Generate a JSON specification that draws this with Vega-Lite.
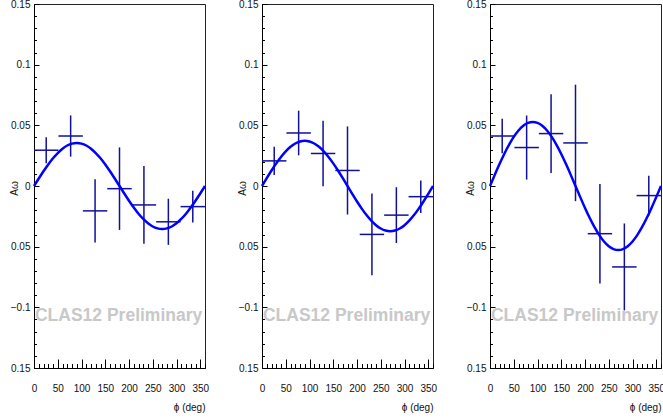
{
  "$schema": "https://vega.github.io/schema/vega-lite/v6.json",
  "padding": {"left": 8, "top": -2, "right": 0, "bottom": 0},
  "background": "white",
  "config": {
    "font": "Liberation Sans",
    "view": {"stroke": "#222", "strokeWidth": 1},
    "axis": {"grid": false, "labelFont": "Liberation Sans", "labelFontSize": 10, "labelColor": "#111", "tickColor": "#000", "tickWidth": 1, "domainColor": "#000", "labelFlush": false, "labelOverlap": false}
  },
  "datasets": {
    "pts": [
      {"panel": 1, "phi": 25.71, "phiLo": 0, "phiHi": 51.43, "A": 0.0295, "Alo": 0.0188, "Ahi": 0.0402},
      {"panel": 1, "phi": 77.14, "phiLo": 51.43, "phiHi": 102.86, "A": 0.0412, "Alo": 0.0242, "Ahi": 0.0582},
      {"panel": 1, "phi": 128.57, "phiLo": 102.86, "phiHi": 154.29, "A": -0.0205, "Alo": -0.0465, "Ahi": 0.0055},
      {"panel": 1, "phi": 180, "phiLo": 154.29, "phiHi": 205.71, "A": -0.0022, "Alo": -0.0362, "Ahi": 0.0318},
      {"panel": 1, "phi": 231.43, "phiLo": 205.71, "phiHi": 257.14, "A": -0.0156, "Alo": -0.0476, "Ahi": 0.0164},
      {"panel": 1, "phi": 282.86, "phiLo": 257.14, "phiHi": 308.57, "A": -0.0295, "Alo": -0.0485, "Ahi": -0.0105},
      {"panel": 1, "phi": 334.29, "phiLo": 308.57, "phiHi": 360, "A": -0.017, "Alo": -0.030, "Ahi": -0.004},
      {"panel": 2, "phi": 25.71, "phiLo": 0, "phiHi": 51.43, "A": 0.0207, "Alo": 0.0091, "Ahi": 0.0323},
      {"panel": 2, "phi": 77.14, "phiLo": 51.43, "phiHi": 102.86, "A": 0.0437, "Alo": 0.0253, "Ahi": 0.0621},
      {"panel": 2, "phi": 128.57, "phiLo": 102.86, "phiHi": 154.29, "A": 0.0268, "Alo": -0.0002, "Ahi": 0.0538},
      {"panel": 2, "phi": 180, "phiLo": 154.29, "phiHi": 205.71, "A": 0.0128, "Alo": -0.0235, "Ahi": 0.0491},
      {"panel": 2, "phi": 231.43, "phiLo": 205.71, "phiHi": 257.14, "A": -0.0399, "Alo": -0.0736, "Ahi": -0.0062},
      {"panel": 2, "phi": 282.86, "phiLo": 257.14, "phiHi": 308.57, "A": -0.024, "Alo": -0.047, "Ahi": -0.001},
      {"panel": 2, "phi": 334.29, "phiLo": 308.57, "phiHi": 360, "A": -0.0088, "Alo": -0.0222, "Ahi": 0.0046},
      {"panel": 3, "phi": 25.71, "phiLo": 0, "phiHi": 51.43, "A": 0.0412, "Alo": 0.0269, "Ahi": 0.0555},
      {"panel": 3, "phi": 77.14, "phiLo": 51.43, "phiHi": 102.86, "A": 0.0317, "Alo": 0.0053, "Ahi": 0.0581},
      {"panel": 3, "phi": 128.57, "phiLo": 102.86, "phiHi": 154.29, "A": 0.0432, "Alo": 0.0107, "Ahi": 0.0757},
      {"panel": 3, "phi": 180, "phiLo": 154.29, "phiHi": 205.71, "A": 0.0355, "Alo": -0.0125, "Ahi": 0.0835},
      {"panel": 3, "phi": 231.43, "phiLo": 205.71, "phiHi": 257.14, "A": -0.0393, "Alo": -0.0803, "Ahi": 0.0017},
      {"panel": 3, "phi": 282.86, "phiLo": 257.14, "phiHi": 308.57, "A": -0.0667, "Alo": -0.1025, "Ahi": -0.0309},
      {"panel": 3, "phi": 334.29, "phiLo": 308.57, "phiHi": 360, "A": -0.0079, "Alo": -0.0243, "Ahi": 0.0085}
    ],
    "fit": [
      {"panel": 1, "phi": 0, "fit": 0}, {"panel": 1, "phi": 10, "fit": 0.00616}, {"panel": 1, "phi": 20, "fit": 0.01214}, {"panel": 1, "phi": 30, "fit": 0.01775}, {"panel": 1, "phi": 40, "fit": 0.02282}, {"panel": 1, "phi": 50, "fit": 0.02719}, {"panel": 1, "phi": 60, "fit": 0.03074}, {"panel": 1, "phi": 70, "fit": 0.03336}, {"panel": 1, "phi": 80, "fit": 0.03496}, {"panel": 1, "phi": 90, "fit": 0.0355},
      {"panel": 1, "phi": 100, "fit": 0.03496}, {"panel": 1, "phi": 110, "fit": 0.03336}, {"panel": 1, "phi": 120, "fit": 0.03074}, {"panel": 1, "phi": 130, "fit": 0.02719}, {"panel": 1, "phi": 140, "fit": 0.02282}, {"panel": 1, "phi": 150, "fit": 0.01775}, {"panel": 1, "phi": 160, "fit": 0.01214}, {"panel": 1, "phi": 170, "fit": 0.00616}, {"panel": 1, "phi": 180, "fit": 0},
      {"panel": 1, "phi": 190, "fit": -0.00616}, {"panel": 1, "phi": 200, "fit": -0.01214}, {"panel": 1, "phi": 210, "fit": -0.01775}, {"panel": 1, "phi": 220, "fit": -0.02282}, {"panel": 1, "phi": 230, "fit": -0.02719}, {"panel": 1, "phi": 240, "fit": -0.03074}, {"panel": 1, "phi": 250, "fit": -0.03336}, {"panel": 1, "phi": 260, "fit": -0.03496}, {"panel": 1, "phi": 270, "fit": -0.0355},
      {"panel": 1, "phi": 280, "fit": -0.03496}, {"panel": 1, "phi": 290, "fit": -0.03336}, {"panel": 1, "phi": 300, "fit": -0.03074}, {"panel": 1, "phi": 310, "fit": -0.02719}, {"panel": 1, "phi": 320, "fit": -0.02282}, {"panel": 1, "phi": 330, "fit": -0.01775}, {"panel": 1, "phi": 340, "fit": -0.01214}, {"panel": 1, "phi": 350, "fit": -0.00616}, {"panel": 1, "phi": 360, "fit": 0},
      {"panel": 2, "phi": 0, "fit": 0}, {"panel": 2, "phi": 10, "fit": 0.00648}, {"panel": 2, "phi": 20, "fit": 0.01276}, {"panel": 2, "phi": 30, "fit": 0.01865}, {"panel": 2, "phi": 40, "fit": 0.02398}, {"panel": 2, "phi": 50, "fit": 0.02857}, {"panel": 2, "phi": 60, "fit": 0.0323}, {"panel": 2, "phi": 70, "fit": 0.03505}, {"panel": 2, "phi": 80, "fit": 0.03673}, {"panel": 2, "phi": 90, "fit": 0.0373},
      {"panel": 2, "phi": 100, "fit": 0.03673}, {"panel": 2, "phi": 110, "fit": 0.03505}, {"panel": 2, "phi": 120, "fit": 0.0323}, {"panel": 2, "phi": 130, "fit": 0.02857}, {"panel": 2, "phi": 140, "fit": 0.02398}, {"panel": 2, "phi": 150, "fit": 0.01865}, {"panel": 2, "phi": 160, "fit": 0.01276}, {"panel": 2, "phi": 170, "fit": 0.00648}, {"panel": 2, "phi": 180, "fit": 0},
      {"panel": 2, "phi": 190, "fit": -0.00648}, {"panel": 2, "phi": 200, "fit": -0.01276}, {"panel": 2, "phi": 210, "fit": -0.01865}, {"panel": 2, "phi": 220, "fit": -0.02398}, {"panel": 2, "phi": 230, "fit": -0.02857}, {"panel": 2, "phi": 240, "fit": -0.0323}, {"panel": 2, "phi": 250, "fit": -0.03505}, {"panel": 2, "phi": 260, "fit": -0.03673}, {"panel": 2, "phi": 270, "fit": -0.0373},
      {"panel": 2, "phi": 280, "fit": -0.03673}, {"panel": 2, "phi": 290, "fit": -0.03505}, {"panel": 2, "phi": 300, "fit": -0.0323}, {"panel": 2, "phi": 310, "fit": -0.02857}, {"panel": 2, "phi": 320, "fit": -0.02398}, {"panel": 2, "phi": 330, "fit": -0.01865}, {"panel": 2, "phi": 340, "fit": -0.01276}, {"panel": 2, "phi": 350, "fit": -0.00648}, {"panel": 2, "phi": 360, "fit": 0},
      {"panel": 3, "phi": 0, "fit": 0}, {"panel": 3, "phi": 10, "fit": 0.00917}, {"panel": 3, "phi": 20, "fit": 0.01806}, {"panel": 3, "phi": 30, "fit": 0.0264}, {"panel": 3, "phi": 40, "fit": 0.03394}, {"panel": 3, "phi": 50, "fit": 0.04045}, {"panel": 3, "phi": 60, "fit": 0.04573}, {"panel": 3, "phi": 70, "fit": 0.04962}, {"panel": 3, "phi": 80, "fit": 0.052}, {"panel": 3, "phi": 90, "fit": 0.0528},
      {"panel": 3, "phi": 100, "fit": 0.052}, {"panel": 3, "phi": 110, "fit": 0.04962}, {"panel": 3, "phi": 120, "fit": 0.04573}, {"panel": 3, "phi": 130, "fit": 0.04045}, {"panel": 3, "phi": 140, "fit": 0.03394}, {"panel": 3, "phi": 150, "fit": 0.0264}, {"panel": 3, "phi": 160, "fit": 0.01806}, {"panel": 3, "phi": 170, "fit": 0.00917}, {"panel": 3, "phi": 180, "fit": 0},
      {"panel": 3, "phi": 190, "fit": -0.00917}, {"panel": 3, "phi": 200, "fit": -0.01806}, {"panel": 3, "phi": 210, "fit": -0.0264}, {"panel": 3, "phi": 220, "fit": -0.03394}, {"panel": 3, "phi": 230, "fit": -0.04045}, {"panel": 3, "phi": 240, "fit": -0.04573}, {"panel": 3, "phi": 250, "fit": -0.04962}, {"panel": 3, "phi": 260, "fit": -0.052}, {"panel": 3, "phi": 270, "fit": -0.0528},
      {"panel": 3, "phi": 280, "fit": -0.052}, {"panel": 3, "phi": 290, "fit": -0.04962}, {"panel": 3, "phi": 300, "fit": -0.04573}, {"panel": 3, "phi": 310, "fit": -0.04045}, {"panel": 3, "phi": 320, "fit": -0.03394}, {"panel": 3, "phi": 330, "fit": -0.0264}, {"panel": 3, "phi": 340, "fit": -0.01806}, {"panel": 3, "phi": 350, "fit": -0.00917}, {"panel": 3, "phi": 360, "fit": 0}
    ],
    "wm": [
      {"panel": 1, "phi": 2, "A": -0.1112, "label": "CLAS12 Preliminary"},
      {"panel": 2, "phi": 2, "A": -0.1112, "label": "CLAS12 Preliminary"},
      {"panel": 3, "phi": 2, "A": -0.1112, "label": "CLAS12 Preliminary"}
    ]
  },
  "bounds": "flush",
  "spacing": 57,
  "hconcat": [
    {
      "width": 171, "height": 364,
      "layer": [
        {"data": {"name": "wm"}, "transform": [{"filter": "datum.panel == 1"}],
         "mark": {"type": "text", "align": "left", "baseline": "alphabetic", "fontSize": 17.5, "fontWeight": "bold", "color": "#c8c8c8", "font": "Liberation Sans"},
         "encoding": {
           "x": {"field": "phi", "type": "quantitative", "scale": {"domain": [0, 360], "nice": false, "zero": false}, "axis": {"orient": "bottom", "values": [0, 50, 100, 150, 200, 250, 300, 350], "ticks": false, "labelPadding": 15, "title": "ϕ (deg)", "titleFont": "Liberation Sans", "titleFontSize": 10, "titleFontWeight": "normal", "titleColor": "#111", "titleX": 171, "titleY": 39, "titleAlign": "right", "titleBaseline": "middle", "titleAngle": 0}},
           "y": {"field": "A", "type": "quantitative", "scale": {"domain": [-0.15, 0.15], "nice": false, "zero": false}, "axis": {"orient": "left", "values": [-0.15, -0.1, -0.05, 0, 0.05, 0.1, 0.15], "ticks": false, "labelPadding": 4, "labelExpr": "datum.value < -0.12 ? '0.15' : datum.value < -0.07 ? '−0.1' : datum.value < -0.02 ? '0.05' : datum.value < 0.02 ? '0' : datum.value < 0.07 ? '0.05' : datum.value < 0.12 ? '0.1' : '0.15'", "title": "Aω", "titleFont": "Liberation Sans", "titleFontSize": 10, "titleFontWeight": "normal", "titleColor": "#111", "titleX": -20, "titleY": 184, "titleAlign": "center", "titleBaseline": "middle", "titleAngle": -90}},
           "text": {"field": "label"}
         }},
        {"data": {"name": "pts"}, "transform": [{"filter": "datum.panel == 1"}],
         "mark": {"type": "rule", "color": "#10109a", "strokeWidth": 1.5},
         "encoding": {
           "x": {"field": "phi", "type": "quantitative", "axis": {"orient": "bottom", "values": [0, 50, 100, 150, 200, 250, 300, 350], "labels": false, "domain": false, "tickSize": -9, "title": null}},
           "y": {"field": "Alo", "type": "quantitative", "axis": {"orient": "left", "values": [-0.15, -0.1, -0.05, 0, 0.05, 0.1, 0.15], "labels": false, "domain": false, "tickSize": -5, "title": null}},
           "y2": {"field": "Ahi"}
         }},
        {"data": {"name": "pts"}, "transform": [{"filter": "datum.panel == 1"}],
         "mark": {"type": "rule", "color": "#10109a", "strokeWidth": 1.5},
         "encoding": {
           "x": {"field": "phiLo", "type": "quantitative", "axis": {"orient": "bottom", "values": [0, 10, 20, 30, 40, 50, 60, 70, 80, 90, 100, 110, 120, 130, 140, 150, 160, 170, 180, 190, 200, 210, 220, 230, 240, 250, 260, 270, 280, 290, 300, 310, 320, 330, 340, 350, 360], "labels": false, "domain": false, "tickSize": -4.5, "title": null}},
           "x2": {"field": "phiHi"},
           "y": {"field": "A", "type": "quantitative", "axis": {"orient": "left", "values": [-0.15, -0.14, -0.13, -0.12, -0.11, -0.1, -0.09, -0.08, -0.07, -0.06, -0.05, -0.04, -0.03, -0.02, -0.01, 0, 0.01, 0.02, 0.03, 0.04, 0.05, 0.06, 0.07, 0.08, 0.09, 0.1, 0.11, 0.12, 0.13, 0.14, 0.15], "labels": false, "domain": false, "tickSize": -2.5, "title": null}}
         }},
        {"data": {"name": "fit"}, "transform": [{"filter": "datum.panel == 1"}],
         "mark": {"type": "line", "color": "#0000ff", "strokeWidth": 2.5, "interpolate": "monotone"},
         "encoding": {
           "x": {"field": "phi", "type": "quantitative", "axis": null},
           "y": {"field": "fit", "type": "quantitative", "axis": null}
         }}
      ],
      "resolve": {"axis": {"x": "independent", "y": "independent"}}
    },
    {
      "width": 171, "height": 364,
      "layer": [
        {"data": {"name": "wm"}, "transform": [{"filter": "datum.panel == 2"}],
         "mark": {"type": "text", "align": "left", "baseline": "alphabetic", "fontSize": 17.5, "fontWeight": "bold", "color": "#c8c8c8", "font": "Liberation Sans"},
         "encoding": {
           "x": {"field": "phi", "type": "quantitative", "scale": {"domain": [0, 360], "nice": false, "zero": false}, "axis": {"orient": "bottom", "values": [0, 50, 100, 150, 200, 250, 300, 350], "ticks": false, "labelPadding": 15, "title": "ϕ (deg)", "titleFont": "Liberation Sans", "titleFontSize": 10, "titleFontWeight": "normal", "titleColor": "#111", "titleX": 171, "titleY": 39, "titleAlign": "right", "titleBaseline": "middle", "titleAngle": 0}},
           "y": {"field": "A", "type": "quantitative", "scale": {"domain": [-0.15, 0.15], "nice": false, "zero": false}, "axis": {"orient": "left", "values": [-0.15, -0.1, -0.05, 0, 0.05, 0.1, 0.15], "ticks": false, "labelPadding": 4, "labelExpr": "datum.value < -0.12 ? '0.15' : datum.value < -0.07 ? '−0.1' : datum.value < -0.02 ? '0.05' : datum.value < 0.02 ? '0' : datum.value < 0.07 ? '0.05' : datum.value < 0.12 ? '0.1' : '0.15'", "title": "Aω", "titleFont": "Liberation Sans", "titleFontSize": 10, "titleFontWeight": "normal", "titleColor": "#111", "titleX": -20, "titleY": 184, "titleAlign": "center", "titleBaseline": "middle", "titleAngle": -90}},
           "text": {"field": "label"}
         }},
        {"data": {"name": "pts"}, "transform": [{"filter": "datum.panel == 2"}],
         "mark": {"type": "rule", "color": "#10109a", "strokeWidth": 1.5},
         "encoding": {
           "x": {"field": "phi", "type": "quantitative", "axis": {"orient": "bottom", "values": [0, 50, 100, 150, 200, 250, 300, 350], "labels": false, "domain": false, "tickSize": -9, "title": null}},
           "y": {"field": "Alo", "type": "quantitative", "axis": {"orient": "left", "values": [-0.15, -0.1, -0.05, 0, 0.05, 0.1, 0.15], "labels": false, "domain": false, "tickSize": -5, "title": null}},
           "y2": {"field": "Ahi"}
         }},
        {"data": {"name": "pts"}, "transform": [{"filter": "datum.panel == 2"}],
         "mark": {"type": "rule", "color": "#10109a", "strokeWidth": 1.5},
         "encoding": {
           "x": {"field": "phiLo", "type": "quantitative", "axis": {"orient": "bottom", "values": [0, 10, 20, 30, 40, 50, 60, 70, 80, 90, 100, 110, 120, 130, 140, 150, 160, 170, 180, 190, 200, 210, 220, 230, 240, 250, 260, 270, 280, 290, 300, 310, 320, 330, 340, 350, 360], "labels": false, "domain": false, "tickSize": -4.5, "title": null}},
           "x2": {"field": "phiHi"},
           "y": {"field": "A", "type": "quantitative", "axis": {"orient": "left", "values": [-0.15, -0.14, -0.13, -0.12, -0.11, -0.1, -0.09, -0.08, -0.07, -0.06, -0.05, -0.04, -0.03, -0.02, -0.01, 0, 0.01, 0.02, 0.03, 0.04, 0.05, 0.06, 0.07, 0.08, 0.09, 0.1, 0.11, 0.12, 0.13, 0.14, 0.15], "labels": false, "domain": false, "tickSize": -2.5, "title": null}}
         }},
        {"data": {"name": "fit"}, "transform": [{"filter": "datum.panel == 2"}],
         "mark": {"type": "line", "color": "#0000ff", "strokeWidth": 2.5, "interpolate": "monotone"},
         "encoding": {
           "x": {"field": "phi", "type": "quantitative", "axis": null},
           "y": {"field": "fit", "type": "quantitative", "axis": null}
         }}
      ],
      "resolve": {"axis": {"x": "independent", "y": "independent"}}
    },
    {
      "width": 171, "height": 364,
      "layer": [
        {"data": {"name": "wm"}, "transform": [{"filter": "datum.panel == 3"}],
         "mark": {"type": "text", "align": "left", "baseline": "alphabetic", "fontSize": 17.5, "fontWeight": "bold", "color": "#c8c8c8", "font": "Liberation Sans"},
         "encoding": {
           "x": {"field": "phi", "type": "quantitative", "scale": {"domain": [0, 360], "nice": false, "zero": false}, "axis": {"orient": "bottom", "values": [0, 50, 100, 150, 200, 250, 300, 350], "ticks": false, "labelPadding": 15, "title": "ϕ (deg)", "titleFont": "Liberation Sans", "titleFontSize": 10, "titleFontWeight": "normal", "titleColor": "#111", "titleX": 171, "titleY": 39, "titleAlign": "right", "titleBaseline": "middle", "titleAngle": 0}},
           "y": {"field": "A", "type": "quantitative", "scale": {"domain": [-0.15, 0.15], "nice": false, "zero": false}, "axis": {"orient": "left", "values": [-0.15, -0.1, -0.05, 0, 0.05, 0.1, 0.15], "ticks": false, "labelPadding": 4, "labelExpr": "datum.value < -0.12 ? '0.15' : datum.value < -0.07 ? '−0.1' : datum.value < -0.02 ? '0.05' : datum.value < 0.02 ? '0' : datum.value < 0.07 ? '0.05' : datum.value < 0.12 ? '0.1' : '0.15'", "title": "Aω", "titleFont": "Liberation Sans", "titleFontSize": 10, "titleFontWeight": "normal", "titleColor": "#111", "titleX": -20, "titleY": 184, "titleAlign": "center", "titleBaseline": "middle", "titleAngle": -90}},
           "text": {"field": "label"}
         }},
        {"data": {"name": "pts"}, "transform": [{"filter": "datum.panel == 3"}],
         "mark": {"type": "rule", "color": "#10109a", "strokeWidth": 1.5},
         "encoding": {
           "x": {"field": "phi", "type": "quantitative", "axis": {"orient": "bottom", "values": [0, 50, 100, 150, 200, 250, 300, 350], "labels": false, "domain": false, "tickSize": -9, "title": null}},
           "y": {"field": "Alo", "type": "quantitative", "axis": {"orient": "left", "values": [-0.15, -0.1, -0.05, 0, 0.05, 0.1, 0.15], "labels": false, "domain": false, "tickSize": -5, "title": null}},
           "y2": {"field": "Ahi"}
         }},
        {"data": {"name": "pts"}, "transform": [{"filter": "datum.panel == 3"}],
         "mark": {"type": "rule", "color": "#10109a", "strokeWidth": 1.5},
         "encoding": {
           "x": {"field": "phiLo", "type": "quantitative", "axis": {"orient": "bottom", "values": [0, 10, 20, 30, 40, 50, 60, 70, 80, 90, 100, 110, 120, 130, 140, 150, 160, 170, 180, 190, 200, 210, 220, 230, 240, 250, 260, 270, 280, 290, 300, 310, 320, 330, 340, 350, 360], "labels": false, "domain": false, "tickSize": -4.5, "title": null}},
           "x2": {"field": "phiHi"},
           "y": {"field": "A", "type": "quantitative", "axis": {"orient": "left", "values": [-0.15, -0.14, -0.13, -0.12, -0.11, -0.1, -0.09, -0.08, -0.07, -0.06, -0.05, -0.04, -0.03, -0.02, -0.01, 0, 0.01, 0.02, 0.03, 0.04, 0.05, 0.06, 0.07, 0.08, 0.09, 0.1, 0.11, 0.12, 0.13, 0.14, 0.15], "labels": false, "domain": false, "tickSize": -2.5, "title": null}}
         }},
        {"data": {"name": "fit"}, "transform": [{"filter": "datum.panel == 3"}],
         "mark": {"type": "line", "color": "#0000ff", "strokeWidth": 2.5, "interpolate": "monotone"},
         "encoding": {
           "x": {"field": "phi", "type": "quantitative", "axis": null},
           "y": {"field": "fit", "type": "quantitative", "axis": null}
         }}
      ],
      "resolve": {"axis": {"x": "independent", "y": "independent"}}
    }
  ]
}
